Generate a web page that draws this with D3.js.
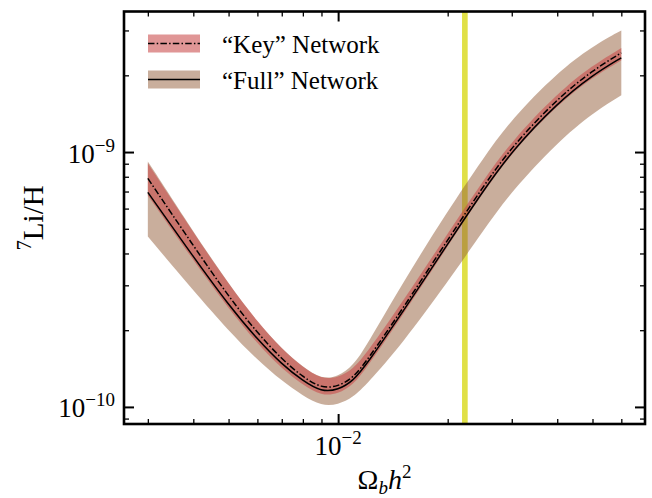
<!DOCTYPE html>
<html>
<head>
<meta charset="UTF-8">
<title>7Li/H vs baryon density</title>
<script src="https://d3js.org/d3.v7.min.js"></script>
<style type="text/css">
	body{
		margin: 0;
		background: white;
	}
	text{
		font-family: "Liberation Serif", "Times New Roman", serif;
		fill: black;
	}
</style>
</head>
<body>
<script>
var omega    = [0.003, 0.004, 0.005, 0.006, 0.007, 0.008, 0.009, 0.010, 0.011, 0.012, 0.015, 0.020, 0.025, 0.030, 0.040, 0.050, 0.060];

// "Key" network: mean and band
var keyMean  = [7.88e-10, 4.29e-10, 2.71e-10, 1.95e-10, 1.54e-10, 1.31e-10, 1.183e-10, 1.203e-10, 1.30e-10, 1.52e-10, 2.41e-10, 4.52e-10, 7.31e-10, 1.05e-9, 1.62e-9, 2.09e-9, 2.45e-9];
var keyHigh  = [9.03e-10, 4.84e-10, 3.03e-10, 2.16e-10, 1.69e-10, 1.43e-10, 1.286e-10, 1.301e-10, 1.41e-10, 1.63e-10, 2.57e-10, 4.79e-10, 7.72e-10, 1.105e-9, 1.70e-9, 2.19e-9, 2.56e-9];
var keyLow   = [6.76e-10, 3.76e-10, 2.43e-10, 1.77e-10, 1.41e-10, 1.22e-10, 1.105e-10, 1.125e-10, 1.22e-10, 1.43e-10, 2.275e-10, 4.27e-10, 6.92e-10, 9.94e-10, 1.53e-9, 1.965e-9, 2.29e-9];

// "Full" network: mean and band
var fullMean = [6.95e-10, 3.88e-10, 2.51e-10, 1.84e-10, 1.47e-10, 1.265e-10, 1.145e-10, 1.166e-10, 1.265e-10, 1.475e-10, 2.34e-10, 4.36e-10, 7.03e-10, 1.009e-9, 1.557e-9, 2.004e-9, 2.343e-9];
var fullHigh = [9.19e-10, 4.87e-10, 3.04e-10, 2.15e-10, 1.69e-10, 1.435e-10, 1.286e-10, 1.316e-10, 1.45e-10, 1.75e-10, 3.05e-10, 5.87e-10, 9.43e-10, 1.35e-9, 2.05e-9, 2.60e-9, 3.00e-9];
var fullLow  = [4.66e-10, 2.86e-10, 1.99e-10, 1.53e-10, 1.265e-10, 1.106e-10, 1.009e-10, 1.021e-10, 1.09e-10, 1.23e-10, 1.77e-10, 3.09e-10, 4.90e-10, 7.03e-10, 1.09e-9, 1.42e-9, 1.67e-9];

// CMB baryon density band
var cmbRange = [0.0219, 0.0227];

// ticks
var xMajor = [0.01];
var xMinor = [0.003, 0.004, 0.005, 0.006, 0.007, 0.008, 0.009, 0.02, 0.03, 0.04, 0.05, 0.06];
var yMajor = [1e-10, 1e-9];
var yMinor = [9e-11, 2e-10, 3e-10, 4e-10, 5e-10, 6e-10, 7e-10, 8e-10, 9e-10, 2e-9, 3e-9];
var xMajorLabels = [["10", "\u22122"]];
var yMajorLabels = [["10", "\u221210"], ["10", "\u22129"]];

var legendLabels = ["\u201cKey\u201d Network", "\u201cFull\u201d Network"];

var width = 652;
var height = 498;
var pLeft = 124, pRight = 645, pTop = 11.5, pBottom = 424;

var svg = d3.select("body").append("svg")
	.attr("width", width)
	.attr("height", height);

var x = d3.scaleLog().domain([0.00258, 0.0697]).range([pLeft, pRight]);
var y = d3.scaleLog().domain([8.57e-11, 3.56e-9]).range([pBottom, pTop]);

var rows = omega.map(function(w, i){
	return {w: w, km: keyMean[i], kh: keyHigh[i], kl: keyLow[i],
	        fm: fullMean[i], fh: fullHigh[i], fl: fullLow[i]};
});

var tanFill = "rgb(147,93,57)", tanAlpha = 0.5;
var redFill = "rgb(201,74,74)", redAlpha = 0.58;
var dashDot = "6.5,2.2,1.5,2.2";
var curve = d3.curveBasis;

// CMB band (drawn under everything)
svg.append("rect")
	.attr("x", x(cmbRange[0]))
	.attr("y", pTop)
	.attr("width", x(cmbRange[1]) - x(cmbRange[0]))
	.attr("height", pBottom - pTop)
	.attr("fill", "rgb(212,212,0)")
	.attr("fill-opacity", 0.72);

var bandFull = d3.area()
	.x(function(d){ return x(d.w); })
	.y0(function(d){ return y(d.fl); })
	.y1(function(d){ return y(d.fh); })
	.curve(curve);
var bandKey = d3.area()
	.x(function(d){ return x(d.w); })
	.y0(function(d){ return y(d.kl); })
	.y1(function(d){ return y(d.kh); })
	.curve(curve);

svg.append("path").datum(rows)
	.attr("d", bandFull)
	.attr("fill", tanFill)
	.attr("fill-opacity", tanAlpha);
svg.append("path").datum(rows)
	.attr("d", bandKey)
	.attr("fill", redFill)
	.attr("fill-opacity", redAlpha);

var lineKey = d3.line()
	.x(function(d){ return x(d.w); })
	.y(function(d){ return y(d.km); })
	.curve(curve);
var lineFull = d3.line()
	.x(function(d){ return x(d.w); })
	.y(function(d){ return y(d.fm); })
	.curve(curve);

svg.append("path").datum(rows)
	.attr("d", lineFull)
	.attr("fill", "none")
	.attr("stroke", "black")
	.attr("stroke-width", 1.5);
svg.append("path").datum(rows)
	.attr("d", lineKey)
	.attr("fill", "none")
	.attr("stroke", "black")
	.attr("stroke-width", 1.5)
	.attr("stroke-dasharray", dashDot);

// ticks, pointing inwards on all four sides
function ticks(axis, values, size, sw, tx){
	var g = svg.append("g")
		.attr("transform", tx)
		.call(axis.tickValues(values).tickSize(-size).tickFormat(""));
	g.select(".domain").remove();
	g.selectAll(".tick line").attr("stroke", "black").attr("stroke-width", sw);
}
ticks(d3.axisBottom(x), xMajor, 10, 2, "translate(0," + pBottom + ")");
ticks(d3.axisBottom(x), xMinor, 5, 1.3, "translate(0," + pBottom + ")");
ticks(d3.axisTop(x), xMajor, 10, 2, "translate(0," + pTop + ")");
ticks(d3.axisTop(x), xMinor, 5, 1.3, "translate(0," + pTop + ")");
ticks(d3.axisLeft(y), yMajor, 10, 2, "translate(" + pLeft + ",0)");
ticks(d3.axisLeft(y), yMinor, 5, 1.3, "translate(" + pLeft + ",0)");
ticks(d3.axisRight(y), yMajor, 10, 2, "translate(" + pRight + ",0)");
ticks(d3.axisRight(y), yMinor, 5, 1.3, "translate(" + pRight + ",0)");

// frame
svg.append("rect")
	.attr("x", pLeft).attr("y", pTop)
	.attr("width", pRight - pLeft).attr("height", pBottom - pTop)
	.attr("fill", "none")
	.attr("stroke", "black")
	.attr("stroke-width", 2.6);

// tick labels
var xl = svg.selectAll(".xlab").data(xMajor).enter().append("text")
	.attr("class", "xlab")
	.attr("x", function(d){ return x(d); })
	.attr("y", pBottom + 31)
	.attr("text-anchor", "middle");
xl.append("tspan").attr("font-size", "27px").text(function(d, i){ return xMajorLabels[i][0]; });
xl.append("tspan").attr("font-size", "19px").attr("dy", -11).text(function(d, i){ return xMajorLabels[i][1]; });

var yl = svg.selectAll(".ylab").data(yMajor).enter().append("text")
	.attr("class", "ylab")
	.attr("x", pLeft - 9)
	.attr("y", function(d){ return y(d) + 10.5; })
	.attr("text-anchor", "end");
yl.append("tspan").attr("font-size", "27px").text(function(d, i){ return yMajorLabels[i][0]; });
yl.append("tspan").attr("font-size", "19px").attr("dy", -11).text(function(d, i){ return yMajorLabels[i][1]; });

// axis labels
var xt = svg.append("text")
	.attr("x", (pLeft + pRight) / 2)
	.attr("y", 489)
	.attr("text-anchor", "middle")
	.attr("font-size", "28px");
xt.append("tspan").text("\u03a9");
xt.append("tspan").attr("font-size", "19px").attr("font-style", "italic").attr("dy", 5).text("b");
xt.append("tspan").attr("font-style", "italic").attr("dy", -5).text("h");
xt.append("tspan").attr("font-size", "19px").attr("dy", -11).text("2");

var yt = svg.append("text")
	.attr("transform", "translate(43," + (pTop + pBottom) / 2 + ") rotate(-90)")
	.attr("text-anchor", "middle")
	.attr("font-size", "29px");
yt.append("tspan").attr("font-size", "20px").attr("dy", -12).text("7");
yt.append("tspan").attr("dy", 12).text("Li/H");

// legend
var legend = svg.append("g").attr("transform", "translate(148,34.5)");
var item = legend.selectAll("g").data(legendLabels).enter().append("g")
	.attr("transform", function(d, i){ return "translate(0," + i * 36 + ")"; });
item.append("rect")
	.attr("width", 52).attr("height", 18)
	.attr("fill", function(d, i){ return i == 0 ? redFill : tanFill; })
	.attr("fill-opacity", function(d, i){ return i == 0 ? redAlpha : tanAlpha; });
item.append("line")
	.attr("x1", 0).attr("x2", 52).attr("y1", 9).attr("y2", 9)
	.attr("stroke", "black").attr("stroke-width", 1.5)
	.attr("stroke-dasharray", function(d, i){ return i == 0 ? dashDot : null; });
item.append("text")
	.attr("x", 74).attr("y", 18)
	.attr("font-size", "25px")
	.text(function(d){ return d; });
</script>
</body>
</html>
